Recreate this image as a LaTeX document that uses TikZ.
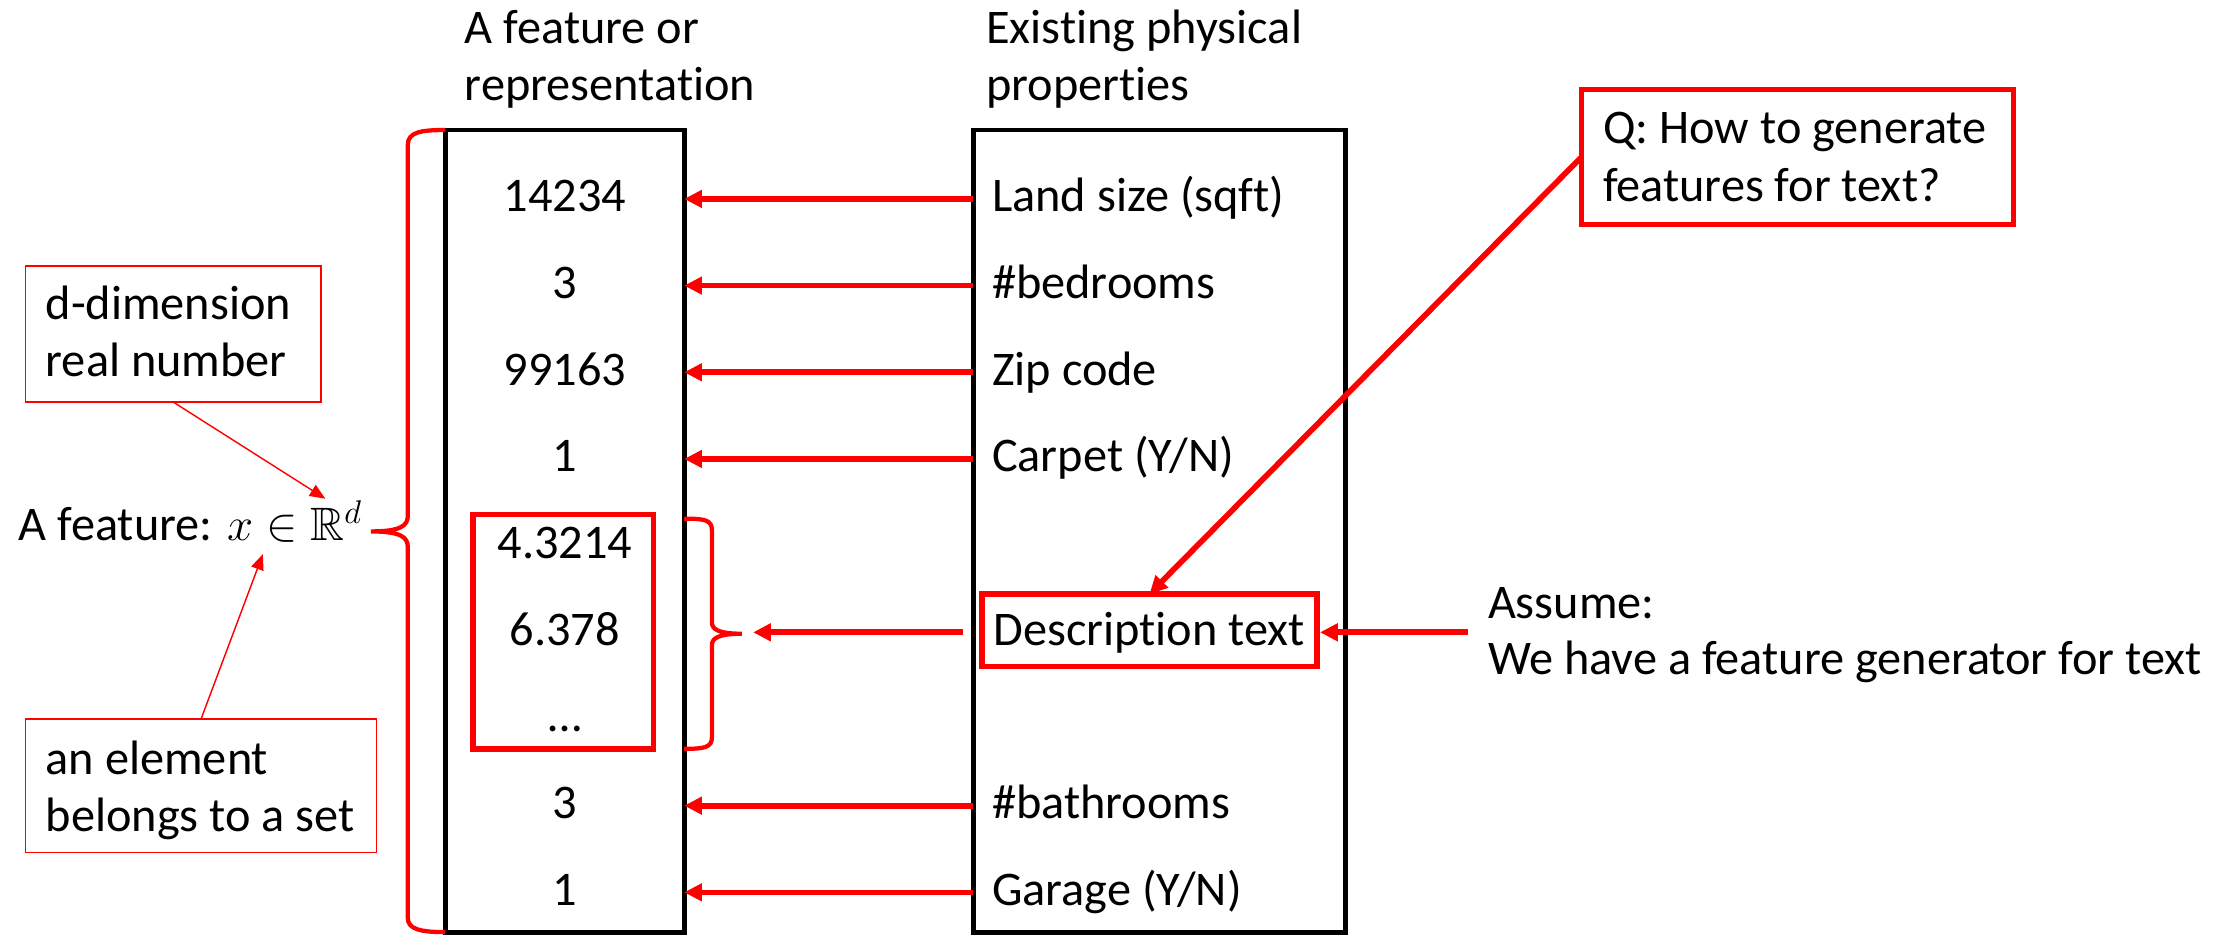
\RequirePackage{fix-cm}
\documentclass[tikz,border=0pt]{standalone}
\usepackage{amssymb}
\usepackage{fontspec}
\setmainfont{Carlito}[Ligatures=NoCommon]
\usetikzlibrary{arrows.meta}
\newcommand\mainsz{\fontsize{34}{40}\selectfont}
\newcommand\annsz{\fontsize{34}{40}\selectfont}
\newcommand\mathsz{\fontsize{33}{40}\selectfont}
\tikzset{
  blackbox/.style={draw=black, line width=3.5pt, inner sep=0pt, outer sep=0pt},
  redbox/.style={draw=red, line width=4pt, inner sep=0pt, outer sep=0pt},
  annbox/.style={draw=red, line width=1.2pt, inner sep=0pt, outer sep=0pt},
  arr/.style={red, line width=4pt, -{Triangle[length=12.5pt,width=12pt]}},
  thinarr/.style={red, line width=1pt, -{Triangle[length=11pt,width=9pt]}},
  bracestyle/.style={red, line width=3pt},
  lbl/.style={anchor=base west, inner sep=0pt, font=\mainsz},
  num/.style={anchor=base, inner sep=0pt, font=\mainsz},
  ann/.style={anchor=base west, inner sep=0pt, font=\annsz},
}
\begin{document}
\begin{tikzpicture}[x=1pt,y=-1pt]
\useasboundingbox (0,0) rectangle (1568,658);

% headings
\node[lbl] (h1a) at (327,30.5) {A feature or};
\node[lbl] (h1b) at (327,70.4) {representation};
\node[lbl] (h2a) at (694,30.5) {Existing physical};
\node[lbl] (h2b) at (694,70.4) {properties};

% main boxes
\node[blackbox, minimum width=168pt, minimum height=564.5pt] (lbox) at (397.5,373.75) {};
\node[blackbox, minimum width=262pt, minimum height=564.5pt] (rbox) at (816,373.75) {};

% numbers
\node[num] (n1) at (397.5,149) {14234};
\node[num] (n2) at (397.5,210) {3};
\node[num] (n3) at (397.5,271) {99163};
\node[num] (n4) at (397.5,332) {1};
\node[num] (n5) at (397.5,393) {4.3214};
\node[num] (n6) at (397.5,454) {6.378};
\node[num] (n7) at (397.5,515) {…};
\node[num] (n8) at (397.5,576) {3};
\node[num] (n9) at (397.5,637) {1};

% properties
\node[lbl] (p1) at (698,149) {Land size (sqft)};
\node[lbl] (p2) at (698,210) {\#bedrooms};
\node[lbl] (p3) at (698,271) {Zip code};
\node[lbl] (p4) at (698,332) {Carpet (Y/N)};
\node[lbl] (p6) at (699,454) {Description text};
\node[lbl] (p8) at (698,576) {\#bathrooms};
\node[lbl] (p9) at (698,637) {Garage (Y/N)};

% red boxes
\node[redbox, minimum width=127pt, minimum height=165pt] (numbox) at (396.5,444.5) {};
\node[redbox, minimum width=236pt, minimum height=51pt] (dbox) at (809,443.5) {};
\node[redbox, minimum width=304pt, minimum height=95pt] (qbox) at (1265,110.5) {};
\node[lbl] (q1) at (1128,101) {Q: How to generate};
\node[lbl] (q2) at (1128,142) {features for text?};

% assume
\node[lbl] (as1) at (1047,435) {Assume:};
\node[lbl] (as2) at (1047,475) {We have a feature generator for text};

% annotations
\node[annbox, minimum width=208pt, minimum height=96pt] (ddim) at (122,235) {};
\node[ann] (dd1) at (32,225) {d-dimension};
\node[ann] (dd2) at (32,265) {real number};
\node[annbox, minimum width=247pt, minimum height=94pt] (elem) at (141.5,553) {};
\node[ann] (el1) at (32,545) {an element};
\node[ann] (el2) at (32,585.5) {belongs to a set};
\node[ann] (feat) at (13,380.5) {A feature: {\mathsz $x \in \mathbb{R}^d$}};

\coordinate (rtip) at (229,351);
\coordinate (etip) at (185,390);
\draw[thinarr] (ddim.south) -- (rtip);
\draw[thinarr] (elem.north) -- (etip);

% big brace
\coordinate (bigtip) at (261,374);
\draw[bracestyle] (lbox.north west) .. controls (296,91.5) and (287,93) .. (287,102)
  -- (287,363) .. controls (287,370) and (282,374) .. (bigtip)
  .. controls (282,374) and (287,378) .. (287,385)
  -- (287,646) .. controls (287,654) and (296,656) .. (lbox.south west);

% small brace
\coordinate (stip) at (522,446);
\draw[bracestyle] (481.5,365) .. controls (496,365) and (501,366) .. (501,373)
  -- (501,438) .. controls (501,443) and (506,446) .. (stip)
  .. controls (506,446) and (501,449) .. (501,454)
  -- (501,519) .. controls (501,526) and (496,527) .. (481.5,527);

% row arrows
\coordinate (a1) at (600,140);
\coordinate (a2) at (600,201);
\coordinate (a3) at (600,262);
\coordinate (a4) at (600,323);
\coordinate (a8) at (600,567);
\coordinate (a9) at (600,628);
\foreach \r in {a1,a2,a3,a4,a8,a9}{
  \draw[arr] (rbox.west |- \r) -- (lbox.east |- \r);
}
\coordinate (dstart) at (678,445);
\coordinate (dend) at (530,445);
\draw[arr] (dstart) -- (dend);

\coordinate (astart) at (1033,445);
\draw[arr, shorten >=2pt] (astart) -- (dbox.east |- astart);

\draw[arr] (qbox.west) -- (dbox.north);
\end{tikzpicture}
\end{document}
